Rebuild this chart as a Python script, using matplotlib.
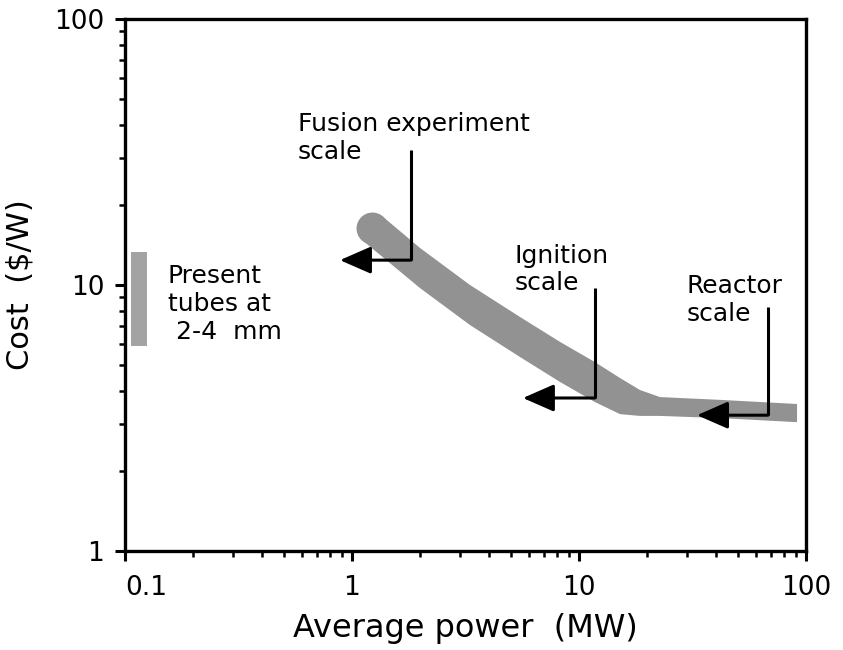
import matplotlib
matplotlib.use("Agg")
import matplotlib.pyplot as plt
from matplotlib.ticker import NullFormatter, LogLocator

# ---- data ----
# cost band (MW, $/W): upper and lower edges of the shaded band
band_upper_power = [1.356, 1.993, 3.31, 5.50, 8.25, 11.76, 15.16, 18.56, 22.74, 41.8, 91.3]
band_upper_cost = [18.17, 13.78, 10.0, 7.58, 6.11, 5.13, 4.47, 4.03, 3.79, 3.70, 3.57]
band_lower_power = [1.107, 1.993, 3.31, 5.50, 8.25, 11.76, 15.16, 18.56, 22.74, 41.8, 91.3]
band_lower_cost = [14.77, 9.74, 7.07, 5.36, 4.32, 3.63, 3.27, 3.22, 3.22, 3.16, 3.05]
# centre of the rounded upper-left end of the band
band_end_power = 1.225
band_end_cost = 16.38

# present tubes at 2-4 mm (cost range at ~0.1 MW)
present_power = [0.106, 0.125]
present_cost = [5.9, 13.3]

# scale annotations
ann_labels = ["Fusion experiment\nscale", "Ignition\nscale", "Reactor\nscale"]
ann_text_x = [0.578, 5.22, 29.9]
ann_text_y = [44.7, 14.3, 11.0]
ann_line_x = [1.82, 11.75, 68.0]
ann_line_top = [32.2, 9.75, 8.26]
ann_corner_y = [12.4, 3.76, 3.24]
ann_tip_x = [0.885, 5.66, 33.1]

xtick_vals = [0.1, 1, 10, 100]
xtick_labels = ["0.1", "1", "10", "100"]
ytick_vals = [1, 10, 100]
ytick_labels = ["1", "10", "100"]

plt.rcParams['font.family'] = ['DejaVu Sans']

fig = plt.figure(figsize=(8.43, 6.5), dpi=100)
ax = fig.add_axes([125/843, 1-551/650, 681/843, 532/650])
ax.set_xscale('log')
ax.set_yscale('log')
ax.set_xlim(0.1, 100)
ax.set_ylim(1, 100)

band_color = '#929292'
# band polygon: upper edge forward, lower edge backward
poly_x = band_upper_power + band_lower_power[::-1]
poly_y = band_upper_cost + band_lower_cost[::-1]
ax.fill(poly_x, poly_y, color=band_color, lw=0, zorder=2)
ax.plot([band_end_power], [band_end_cost], 'o', ms=23,
        color=band_color, mec='none', zorder=2)

# present tubes bar
ax.fill_between(present_power, present_cost[0], present_cost[1],
                color='#a3a3a3', lw=0, zorder=2)
ax.text(0.1545, 12.0, "Present\ntubes at\n 2-4  mm", fontsize=18,
        ha='left', va='top', zorder=4)

# annotations
for lab, tx, ty, lx, ltop, cy, tipx in zip(ann_labels, ann_text_x, ann_text_y,
                                            ann_line_x, ann_line_top,
                                            ann_corner_y, ann_tip_x):
    ax.text(tx, ty, lab, fontsize=18, ha='left', va='top', zorder=4)
    ax.plot([lx, lx], [ltop, cy], color='black', lw=2.2, zorder=3,
            solid_capstyle='butt')
    ax.annotate('', xy=(tipx, cy), xytext=(lx, cy),
                arrowprops=dict(arrowstyle='-|>,head_length=0.8,head_width=0.35',
                                mutation_scale=24, lw=2.2, color='black',
                                shrinkA=0, shrinkB=0), zorder=3)

# axes styling
for s in ax.spines.values():
    s.set_linewidth(2.4)
ax.set_xticks(xtick_vals, xtick_labels)
ax.set_yticks(ytick_vals, ytick_labels)
ax.xaxis.set_minor_locator(LogLocator(base=10, subs=range(2, 10)))
ax.yaxis.set_minor_locator(LogLocator(base=10, subs=range(2, 10)))
ax.xaxis.set_minor_formatter(NullFormatter())
ax.yaxis.set_minor_formatter(NullFormatter())
ax.tick_params(which='major', direction='out', length=7, width=2.2,
               labelsize=19, top=False, right=False)
ax.tick_params(axis='x', which='major', pad=10)
ax.tick_params(axis='y', which='major', pad=8)
ax.tick_params(which='minor', direction='out', length=4.5, width=1.8,
               top=False, right=False)
ax.xaxis.get_major_ticks()[0].label1.set_horizontalalignment('left')

ax.set_xlabel("Average power  (MW)", fontsize=23, labelpad=9)
ax.set_ylabel("Cost  ($/W)", fontsize=22, labelpad=14)

fig.savefig("out.png", dpi=100)
